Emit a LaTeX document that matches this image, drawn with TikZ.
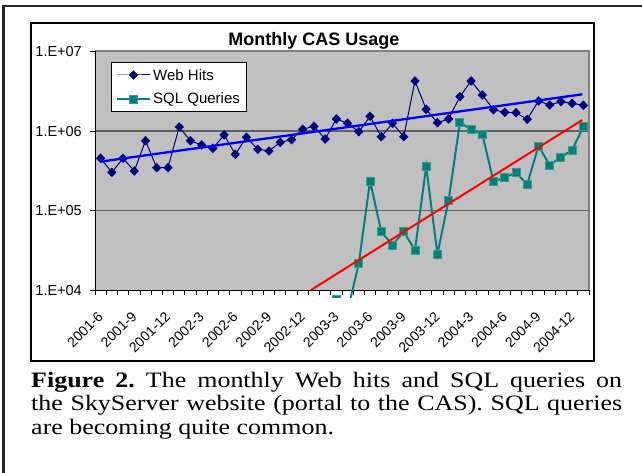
\documentclass[tikz,border=0pt]{standalone}
\usepackage{fontspec}
\setmainfont{Liberation Serif}
\setsansfont{Liberation Sans}
\usetikzlibrary{plotmarks}
\definecolor{plotbg}{HTML}{C0C0C0}
\definecolor{gridc}{HTML}{606060}
\definecolor{plotborder}{HTML}{808080}
\definecolor{webc}{HTML}{000080}
\definecolor{sqlc}{HTML}{008080}
\definecolor{sqledge}{HTML}{3A9E7E}
\definecolor{trendblue}{HTML}{0000FF}
\definecolor{trendred}{HTML}{FF0000}
\tikzset{
  ylab/.style={anchor=east, inner sep=0pt, font=\sffamily\fontsize{14.5}{16}\selectfont},
  xlab/.style={anchor=east, rotate=45, inner sep=0pt, font=\sffamily\fontsize{14}{16}\selectfont},
  legtext/.style={anchor=west, inner sep=0pt, font=\sffamily\fontsize{15}{17}\selectfont},
  webline/.style={draw=webc, line width=1pt, mark=diamond*, mark size=4.5pt,
     mark options={fill=webc, draw=webc, line width=0.3pt, xscale=1.3}},
  sqlline/.style={draw=sqlc, line width=2pt, mark=square*, mark size=4pt,
     mark options={fill=sqlc, draw=sqledge, line width=0.9pt}},
}
\begin{document}
\frenchspacing
\begin{tikzpicture}[x=1pt, y=-1pt]
\useasboundingbox (0,0) rectangle (642,473);
\fill[white] (0,0) rectangle (642,473);
% outer border
\draw[line width=2.4pt, black!85] (3.3,473) -- (3.3,6.3) -- (642,6.3);
% chart frame
\draw[line width=1.2pt] (31,23) rectangle (594,361);
% plot area
\fill[plotbg] (95,51) rectangle (589,290);
\draw[gridc, line width=1.4pt] (95,131) -- (589,131);
\draw[gridc, line width=1.4pt] (95,210.7) -- (589,210.7);
\draw[plotborder, line width=1.2pt] (95,51) -- (589,51) -- (589,290);
\draw[black, line width=0.9pt] (95,51) -- (95,290) -- (589,290);
\foreach \y in {51,131,210.7,290} \draw[black, line width=0.9pt] (90,\y) -- (95,\y);
\foreach \j in {0,...,44} \draw[black, line width=0.8pt] (95+11.227*\j,290) -- ++(0,5);
% y labels
\node[ylab] (y7) at (82,52) {1.E+07};
\node[ylab] (y6) at (82,131.5) {1.E+06};
\node[ylab] (y5) at (82,211) {1.E+05};
\node[ylab] (y4) at (82,290.5) {1.E+04};
% x labels
\foreach \k/\lab [count=\n] in {0/2001-6,3/2001-9,6/2001-12,9/2002-3,12/2002-6,15/2002-9,18/2002-12,21/2003-3,24/2003-6,27/2003-9,30/2003-12,33/2004-3,36/2004-6,39/2004-9,42/2004-12}
  \node[xlab] (xl\n) at (100.6+11.227*\k,314) {\lab};
% title
\node[font=\sffamily\bfseries\fontsize{18}{20}\selectfont, inner sep=0pt] (title) at (314,41) {Monthly CAS Usage};
% data
\begin{scope}
\clip (95,51) rectangle (589,297);
\begin{scope}[x=11.227pt, xshift=100.6pt]
\draw[webline] plot coordinates {(0,158.3) (1,172.3) (2,158.3) (3,171) (4,140.7) (5,167.7) (6,167.7) (7,127) (8,140.7) (9,145) (10,148.3) (11,135) (12,154.3) (13,137.3) (14,149.3) (15,151) (16,142.3) (17,139.7) (18,129.3) (19,126.3) (20,139) (21,119) (22,123.3) (23,131.7) (24,116.3) (25,136.7) (26,123.3) (27,136.7) (28,81) (29,109.3) (30,122.7) (31,119) (32,96.7) (33,81) (34,95) (35,109.7) (36,112.3) (37,112.7) (38,119.3) (39,101) (40,105) (41,101.7) (42,103.3) (43,105.3)};
\draw[sqlline] plot coordinates {(21,299) (22,311) (23,263.3) (24,181) (25,231.7) (26,245) (27,231.7) (28,250) (29,166.7) (30,254) (31,200) (32,122.7) (33,129.3) (34,134.3) (35,181.7) (36,177.3) (37,172.7) (38,184.3) (39,146) (40,165) (41,157.3) (42,150) (43,126.7)};
\end{scope}
\draw[trendblue, line width=2.3pt] (100,161.7) -- (582.3,94.3);
\draw[trendred, line width=2pt] (311,290) -- (582.3,120);
\end{scope}
% legend
\draw[black, fill=white, line width=1pt] (111.7,62.7) rectangle (246.7,111.7);
\draw[webline, mark indices={2}] plot coordinates {(117,75) (133.5,75) (150,75)};
\draw[sqlline, mark indices={2}] plot coordinates {(117,99.3) (133.5,99.3) (150,99.3)};
\node[legtext] (lweb) at (153,75.5) {Web Hits};
\node[legtext] (lsql) at (153,99.8) {SQL Queries};
% caption
\node[anchor=north west, inner sep=0pt, text width=500.8pt, align=justify, xscale=1.18,
  font=\rmfamily\fontsize{22}{23.5}\selectfont] (cap) at (31,372)
  {\textbf{Figure 2.} The monthly Web hits and SQL queries on\linebreak
   the SkyServer website (portal to the CAS). SQL queries\linebreak
   are becoming quite common.};
\end{tikzpicture}
\end{document}
